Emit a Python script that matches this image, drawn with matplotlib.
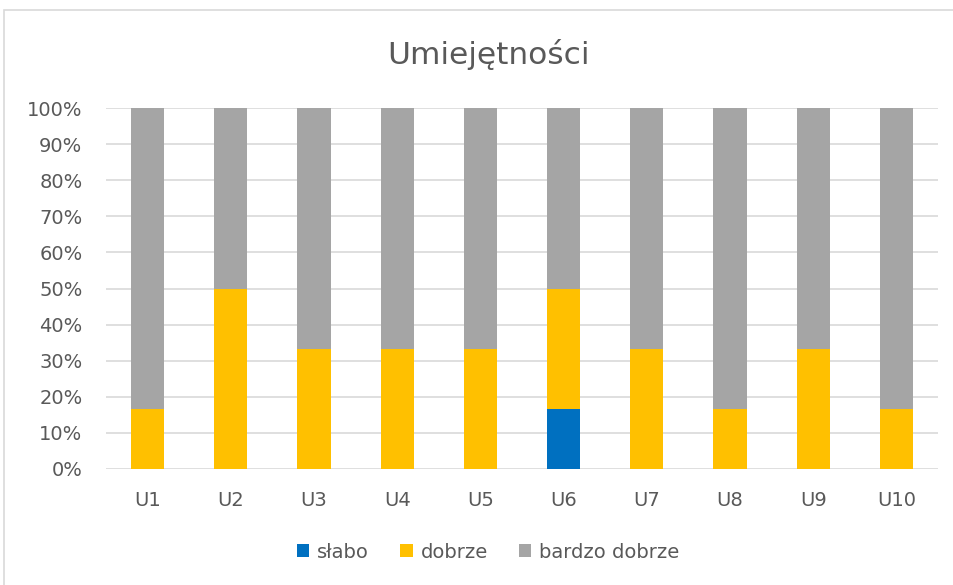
import numpy as np
import matplotlib
matplotlib.use('Agg')
import matplotlib.pyplot as plt
from matplotlib.patches import Rectangle
from matplotlib.ticker import PercentFormatter

categories = ['U1', 'U2', 'U3', 'U4', 'U5', 'U6', 'U7', 'U8', 'U9', 'U10']
# answers counted per skill (6 respondents)
slabo = [0, 0, 0, 0, 0, 1, 0, 0, 0, 0]
dobrze = [1, 3, 2, 2, 2, 2, 2, 1, 2, 1]
bardzo_dobrze = [5, 3, 4, 4, 4, 3, 4, 5, 4, 5]
series_names = ['słabo', 'dobrze', 'bardzo dobrze']
colors = ['#0070C0', '#FFC000', '#A5A5A5']

txt = '#595959'
plt.rcParams['font.family'] = ['DejaVu Sans']

fig = plt.figure(figsize=(9.54, 5.85), dpi=100)
ax = fig.add_axes([106 / 954, 1 - 469 / 585, (938 - 106) / 954, (469 - 108) / 585])

# chart frame
fig.patches.append(Rectangle((4 / 954, -0.01), 1.0, 1 - 10 / 585 + 0.01,
                             transform=fig.transFigure, fill=False,
                             edgecolor='#D9D9D9', linewidth=1.2))

data = np.array([slabo, dobrze, bardzo_dobrze], dtype=float)
shares = data / data.sum(axis=0)
x = np.arange(len(categories))
bottom = np.zeros(len(categories))
for name, vals, c in zip(series_names, shares, colors):
    ax.bar(x, vals, width=0.4, bottom=bottom, color=c, label=name, zorder=3)
    bottom += vals

ax.set_xlim(-0.5, len(categories) - 0.5)
ax.set_ylim(0, 1)
ax.set_yticks(np.arange(0, 1.01, 0.1))
ax.yaxis.set_major_formatter(PercentFormatter(1.0, decimals=0))
ax.set_xticks(x)
ax.set_xticklabels(categories)
ax.grid(axis='y', color='#D9D9D9', linewidth=1.2, zorder=0)
for s in ax.spines.values():
    s.set_visible(False)
ax.tick_params(axis='both', length=0, labelsize=14, labelcolor=txt)
ax.tick_params(axis='x', pad=16)
ax.tick_params(axis='y', pad=17)

fig.text(488 / 954, 1 - 55 / 585, 'Umiejętności', ha='center', va='center',
         fontsize=22.5, color=txt)

fig.legend(loc='center', bbox_to_anchor=(488 / 954, 1 - 552 / 585), ncol=3,
           frameon=False, fontsize=14, labelcolor=txt, handlelength=0.65,
           handleheight=0.65, handletextpad=0.4, columnspacing=1.6)

fig.savefig('out.png', dpi=100)
